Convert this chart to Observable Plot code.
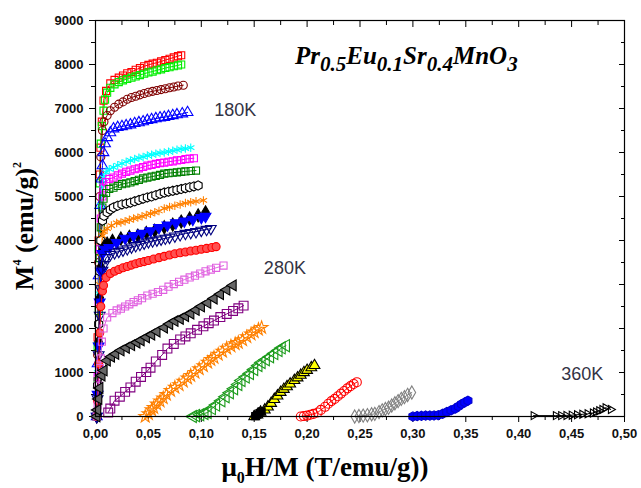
<!DOCTYPE html>
<html>
<head>
<meta charset="utf-8">
<script src="https://cdn.jsdelivr.net/npm/d3@7"></script>
<script src="https://cdn.jsdelivr.net/npm/@observablehq/plot@0.6"></script>
<style>
  html, body { margin: 0; padding: 0; background: #fff; }
  #chart { width: 641px; height: 488px; }
</style>
</head>
<body>
<div id="chart"></div>
<script>
// ---- Data (x = mu0H/M in T/(emu/g), y = M^4) ----
const s01 = [[0.0012,0],[0.002,1800],[0.003,4000],[0.004,5500],[0.0047,6110],[0.006,6700],[0.0076,7180],[0.010,7400],[0.014,7570],[0.018,7650],[0.022,7700],[0.026,7750],[0.030,7800],[0.034,7830],[0.038,7880],[0.042,7920],[0.046,7960],[0.050,7990],[0.054,8020],[0.058,8040],[0.062,8070],[0.066,8100],[0.070,8130],[0.074,8160],[0.078,8190],[0.081,8210]];
const s02 = [[0.0012,0],[0.002,1600],[0.003,3800],[0.004,5300],[0.005,6200],[0.006,6600],[0.0076,6950],[0.009,7200],[0.011,7360],[0.014,7470],[0.018,7550],[0.022,7600],[0.026,7640],[0.030,7670],[0.034,7700],[0.038,7730],[0.042,7760],[0.046,7790],[0.050,7820],[0.054,7840],[0.058,7870],[0.062,7890],[0.066,7920],[0.070,7940],[0.074,7960],[0.078,7980],[0.081,8000]];
const s03 = [[0.0012,0],[0.002,1400],[0.003,3500],[0.004,5000],[0.005,5900],[0.0066,6500],[0.008,6700],[0.011,6840],[0.014,6950],[0.018,7030],[0.022,7100],[0.026,7150],[0.030,7210],[0.034,7250],[0.038,7280],[0.042,7310],[0.046,7340],[0.050,7370],[0.054,7390],[0.058,7410],[0.062,7430],[0.066,7450],[0.070,7470],[0.074,7490],[0.078,7510],[0.083,7530]];
const s04 = [[0.0012,0],[0.002,1200],[0.003,3200],[0.0045,4800],[0.0055,5400],[0.0066,5700],[0.0075,6000],[0.009,6200],[0.011,6340],[0.014,6450],[0.017,6540],[0.021,6570],[0.025,6590],[0.029,6610],[0.033,6630],[0.037,6660],[0.041,6680],[0.045,6700],[0.049,6730],[0.053,6750],[0.057,6770],[0.061,6790],[0.065,6800],[0.069,6820],[0.073,6840],[0.077,6860],[0.082,6880],[0.087,6910]];
const s05 = [[0.0012,0],[0.002,1000],[0.003,2800],[0.004,4000],[0.005,4800],[0.0065,5250],[0.0076,5430],[0.010,5550],[0.013,5620],[0.017,5660],[0.021,5710],[0.025,5750],[0.029,5790],[0.033,5820],[0.037,5850],[0.041,5880],[0.045,5900],[0.049,5930],[0.053,5950],[0.057,5970],[0.061,5990],[0.065,6000],[0.069,6020],[0.073,6040],[0.077,6060],[0.081,6080],[0.085,6090],[0.090,6110]];
const s06 = [[0.0012,0],[0.002,900],[0.003,2600],[0.004,3800],[0.005,4500],[0.0065,5000],[0.0076,5200],[0.010,5330],[0.013,5400],[0.017,5430],[0.021,5480],[0.025,5520],[0.029,5560],[0.033,5590],[0.037,5620],[0.041,5640],[0.045,5670],[0.049,5700],[0.053,5720],[0.057,5740],[0.061,5760],[0.065,5770],[0.069,5790],[0.073,5800],[0.077,5820],[0.081,5830],[0.085,5850],[0.089,5860],[0.093,5870]];
const s07 = [[0.0012,0],[0.002,800],[0.003,2400],[0.004,3600],[0.005,4300],[0.0065,4750],[0.0076,4950],[0.010,5080],[0.013,5170],[0.017,5200],[0.021,5240],[0.025,5280],[0.029,5300],[0.033,5320],[0.037,5350],[0.041,5380],[0.045,5410],[0.049,5430],[0.053,5450],[0.057,5470],[0.061,5490],[0.065,5520],[0.069,5530],[0.073,5540],[0.077,5550],[0.081,5560],[0.085,5570],[0.090,5580],[0.095,5590]];
const s08 = [[0.0012,0],[0.002,700],[0.003,2100],[0.004,3300],[0.005,4000],[0.0066,4450],[0.008,4560],[0.011,4640],[0.014,4700],[0.017,4750],[0.021,4790],[0.025,4820],[0.029,4840],[0.033,4860],[0.037,4890],[0.041,4920],[0.045,4950],[0.049,4980],[0.053,5000],[0.057,5030],[0.061,5060],[0.065,5090],[0.069,5110],[0.073,5130],[0.077,5150],[0.081,5170],[0.085,5190],[0.089,5210],[0.093,5230],[0.097,5250]];
const s09 = [[0.0012,0],[0.002,600],[0.003,1900],[0.004,3000],[0.005,3700],[0.0066,4110],[0.008,4200],[0.011,4270],[0.015,4340],[0.020,4400],[0.024,4410],[0.028,4440],[0.032,4470],[0.036,4500],[0.040,4520],[0.044,4550],[0.048,4580],[0.052,4610],[0.056,4640],[0.060,4670],[0.065,4730],[0.070,4760],[0.075,4790],[0.080,4820],[0.085,4850],[0.090,4870],[0.095,4890],[0.102,4910]];
const s10 = [[0.0012,0],[0.002,500],[0.003,1700],[0.004,2700],[0.005,3400],[0.0066,3770],[0.008,3860],[0.011,3930],[0.016,3990],[0.024,4045],[0.032,4080],[0.040,4110],[0.048,4170],[0.056,4220],[0.065,4300],[0.073,4360],[0.081,4430],[0.089,4500],[0.097,4570],[0.104,4640]];
const s10b = [[0.0012,0],[0.002,500],[0.003,1600],[0.004,2600],[0.005,3300],[0.0066,3700],[0.009,3800],[0.013,3840],[0.020,3950],[0.028,4050],[0.036,4110],[0.044,4160],[0.052,4220],[0.060,4290],[0.068,4350],[0.076,4400],[0.084,4440],[0.092,4480],[0.100,4520],[0.104,4545]];
const s11 = [[0.0012,0],[0.002,400],[0.003,1400],[0.004,2300],[0.005,2900],[0.0066,3320],[0.008,3450],[0.010,3610],[0.014,3680],[0.018,3720],[0.022,3750],[0.026,3780],[0.030,3810],[0.034,3850],[0.038,3880],[0.042,3910],[0.046,3940],[0.050,3970],[0.054,3990],[0.058,4010],[0.062,4030],[0.066,4050],[0.070,4070],[0.075,4100],[0.080,4130],[0.085,4160],[0.090,4180],[0.095,4200],[0.100,4230],[0.105,4250],[0.109,4270]];
const s12 = [[0.0012,0],[0.002,350],[0.003,1200],[0.004,1900],[0.005,2500],[0.0066,2850],[0.0076,2980],[0.010,3160],[0.014,3250],[0.018,3300],[0.022,3340],[0.026,3380],[0.030,3410],[0.034,3440],[0.038,3470],[0.042,3500],[0.046,3520],[0.050,3545],[0.055,3580],[0.060,3610],[0.065,3640],[0.070,3670],[0.075,3700],[0.080,3720],[0.085,3740],[0.090,3760],[0.095,3780],[0.100,3800],[0.105,3820],[0.110,3840],[0.114,3860]];
const s13 = [[0.0012,0],[0.002,250],[0.003,700],[0.004,1100],[0.005,1320],[0.006,1700],[0.0076,2000],[0.011,2250],[0.016,2350],[0.020,2410],[0.024,2450],[0.028,2500],[0.032,2550],[0.036,2600],[0.040,2640],[0.044,2690],[0.049,2750],[0.054,2790],[0.059,2830],[0.064,2880],[0.069,2950],[0.074,3010],[0.079,3060],[0.084,3110],[0.089,3160],[0.094,3200],[0.099,3250],[0.104,3300],[0.109,3340],[0.114,3380],[0.121,3430]];
const s14 = [[0.0012,0],[0.002,150],[0.003,400],[0.004,650],[0.006,930],[0.008,1045],[0.011,1270],[0.015,1360],[0.019,1420],[0.024,1500],[0.029,1560],[0.034,1620],[0.039,1680],[0.043,1730],[0.048,1800],[0.053,1860],[0.058,1930],[0.065,2020],[0.070,2100],[0.075,2170],[0.080,2220],[0.085,2280],[0.090,2340],[0.095,2420],[0.100,2500],[0.106,2580],[0.112,2680],[0.118,2780],[0.124,2880],[0.130,2980]];
const s15 = [[0.012,90],[0.014,180],[0.018,360],[0.023,450],[0.028,560],[0.033,660],[0.038,790],[0.043,900],[0.048,1010],[0.052,1110],[0.057,1250],[0.063,1400],[0.068,1545],[0.074,1650],[0.080,1750],[0.085,1820],[0.090,1890],[0.096,1970],[0.102,2050],[0.107,2120],[0.112,2180],[0.118,2260],[0.124,2330],[0.130,2400],[0.135,2460],[0.140,2520]];
const s16 = [[0.047,0],[0.050,60],[0.053,150],[0.055,200],[0.058,280],[0.061,350],[0.064,420],[0.067,500],[0.071,590],[0.075,660],[0.079,720],[0.083,800],[0.087,870],[0.090,930],[0.094,1000],[0.098,1080],[0.102,1150],[0.106,1230],[0.109,1290],[0.112,1340],[0.116,1410],[0.120,1480],[0.124,1550],[0.128,1600],[0.132,1650],[0.135,1680],[0.139,1740],[0.143,1810],[0.147,1870],[0.150,1920],[0.154,1980],[0.157,2020]];
const s17 = [[0.092,0],[0.095,20],[0.099,40],[0.103,70],[0.106,90],[0.110,180],[0.114,260],[0.119,360],[0.123,450],[0.127,540],[0.131,630],[0.135,730],[0.138,820],[0.142,900],[0.146,980],[0.150,1070],[0.154,1160],[0.157,1230],[0.161,1290],[0.165,1360],[0.169,1430],[0.173,1500],[0.176,1560],[0.180,1610]];
const s18 = [[0.150,0],[0.153,40],[0.156,100],[0.160,150],[0.163,220],[0.166,300],[0.169,390],[0.172,470],[0.175,550],[0.178,620],[0.181,680],[0.184,740],[0.188,820],[0.191,880],[0.194,940],[0.197,1000],[0.200,1050],[0.204,1110],[0.207,1160]];
const s18b = [[0.151,10],[0.153,40],[0.155,80],[0.157,120]];
const s19 = [[0.194,0],[0.197,10],[0.200,20],[0.203,40],[0.206,60],[0.210,90],[0.213,150],[0.217,220],[0.220,290],[0.223,350],[0.226,400],[0.229,460],[0.232,520],[0.235,580],[0.238,640],[0.241,690],[0.244,740],[0.247,780]];
const s20 = [[0.245,0],[0.249,10],[0.253,20],[0.257,30],[0.261,50],[0.264,60],[0.268,100],[0.271,140],[0.274,170],[0.277,200],[0.280,250],[0.283,300],[0.286,350],[0.289,400],[0.292,440],[0.295,490],[0.299,545]];
const s21 = [[0.300,0],[0.304,10],[0.308,15],[0.312,20],[0.316,20],[0.320,25],[0.324,30],[0.328,60],[0.332,100],[0.336,140],[0.340,180],[0.343,230],[0.346,280],[0.349,320],[0.352,360]];
const s22 = [[0.414,20],[0.435,20],[0.440,20],[0.445,25],[0.450,30],[0.455,40],[0.460,50],[0.465,60],[0.470,80],[0.473,100],[0.476,130],[0.479,160],[0.482,200],[0.487,160]];

const xMajor = [0, 0.05, 0.10, 0.15, 0.20, 0.25, 0.30, 0.35, 0.40, 0.45, 0.50];
const xMinor = [0.025, 0.075, 0.125, 0.175, 0.225, 0.275, 0.325, 0.375, 0.425, 0.475];
const yMajor = [0, 1000, 2000, 3000, 4000, 5000, 6000, 7000, 8000, 9000];
const yMinor = [500, 1500, 2500, 3500, 4500, 5500, 6500, 7500, 8500];
const tempLabels = ["180K", "280K", "360K"];
const tempLabelX = [0.132, 0.179, 0.46];
const tempLabelY = [6950, 3370, 960];

// ---- Series styling ----
const series = [
  {data: s01, color: "#ff0000", symbol: "square", fill: "none"},
  {data: s02, color: "#00ee00", symbol: "square", fill: "none"},
  {data: s03, color: "#800000", symbol: "circle", fill: "none"},
  {data: s04, color: "#0000ff", symbol: "triangle", fill: "none"},
  {data: s05, color: "#00ffff", symbol: "asterisk", fill: "none"},
  {data: s06, color: "#ff00ff", symbol: "square", fill: "none"},
  {data: s07, color: "#008000", symbol: "square", fill: "none"},
  {data: s08, color: "#000000", symbol: "hexagon", fill: "#ffffff"},
  {data: s09, color: "#ff8000", symbol: "asterisk", fill: "none"},
  {data: s10, color: "#000000", symbol: "diamond", fill: "#000000"},
  {data: s10b, color: "#0000ff", symbol: "triangle", fill: "#0000ff", rotate: 180},
  {data: s11, color: "#000080", symbol: "triangle", fill: "none", rotate: 180},
  {data: s12, color: "#ff0000", symbol: "circle", fill: "#ff5050"},
  {data: s13, color: "#e060e0", symbol: "square", fill: "none"},
  {data: s14, color: "#000000", symbol: "triangle", fill: "#666666", rotate: -90},
  {data: s15, color: "#800080", symbol: "square", fill: "none", r: 5},
  {data: s16, color: "#ff8000", symbol: "star", fill: "none"},
  {data: s17, color: "#1a9a1a", symbol: "triangle", fill: "none", rotate: -90, r: 4.5},
  {data: s18, color: "#000000", symbol: "triangle", fill: "#ffff00"},
  {data: s18b, color: "#000000", symbol: "square", fill: "#000000"},
  {data: s19, color: "#ff0000", symbol: "circle", fill: "none", r: 4.5},
  {data: s20, color: "#808080", symbol: "diamond", fill: "none"},
  {data: s21, color: "#0000cc", symbol: "hexagon", fill: "#0000ff"},
  {data: s22, color: "#000000", symbol: "triangle", fill: "none", rotate: 90, r: 3}
];

const fmtX = d => d.toFixed(2).replace(".", ",");
const blank = () => "";

const marks = [];
for (const s of series) {
  marks.push(Plot.line(s.data, {x: d => d[0], y: d => d[1], stroke: s.color, strokeWidth: 1}));
  marks.push(Plot.dot(s.data, {
    x: d => d[0], y: d => d[1], symbol: s.symbol, r: s.r ?? 4,
    stroke: s.color, fill: s.fill, strokeWidth: 1.1, rotate: s.rotate ?? 0
  }));
}

const tickStyle = {fontSize: 13, fontWeight: "bold", fontFamily: "Liberation Sans, Arial, sans-serif", fill: "#111"};

const chart = Plot.plot({
  width: 641,
  height: 488,
  marginLeft: 95,
  marginRight: 17,
  marginTop: 20,
  marginBottom: 72,
  style: {background: "#ffffff", fontFamily: "Liberation Sans, Arial, sans-serif", overflow: "visible"},
  x: {domain: [0, 0.5], label: null},
  y: {domain: [0, 9000], label: null},
  marks: [
    Plot.axisX({ticks: xMajor, tickSize: 6, tickPadding: 6, tickFormat: fmtX, label: null, ...tickStyle}),
    Plot.axisX({ticks: xMinor, tickSize: 4, tickFormat: blank, label: null}),
    Plot.axisX({anchor: "top", ticks: xMajor, tickSize: -6, tickFormat: blank, label: null}),
    Plot.axisX({anchor: "top", ticks: xMinor, tickSize: -4, tickFormat: blank, label: null}),
    Plot.axisY({ticks: yMajor, tickSize: 6, tickPadding: 6, tickFormat: d => String(d), label: null, ...tickStyle}),
    Plot.axisY({ticks: yMinor, tickSize: 4, tickFormat: blank, label: null}),
    Plot.axisY({anchor: "right", ticks: yMajor, tickSize: -6, tickFormat: blank, label: null}),
    Plot.axisY({anchor: "right", ticks: yMinor, tickSize: -4, tickFormat: blank, label: null}),
    ...marks,
    Plot.text(tempLabels, {x: (d, i) => tempLabelX[i], y: (d, i) => tempLabelY[i], text: d => d,
      fontSize: 18, fill: "#333344", fontFamily: "Liberation Sans, Arial, sans-serif"}),
    Plot.frame({stroke: "#000", strokeWidth: 1.2})
  ]
});

document.getElementById("chart").appendChild(chart);

// ---- Titles with sub/superscripts ----
const svg = d3.select(chart);
const serif = "Liberation Serif, Times New Roman, serif";

// compound formula
const t = svg.append("text").attr("x", 295).attr("y", 64).attr("text-anchor", "start")
  .attr("font-family", serif).attr("font-weight", "bold").attr("font-style", "italic")
  .attr("font-size", 25).attr("fill", "#000");
const parts = [["Pr", false], ["0.5", true], ["Eu", false], ["0.1", true], ["Sr", false], ["0.4", true], ["MnO", false], ["3", true]];
let sub = false;
for (const [txt, isSub] of parts) {
  const ts = t.append("tspan").text(txt);
  if (isSub && !sub) { ts.attr("dy", 7).attr("font-size", 21); sub = true; }
  else if (isSub) { ts.attr("font-size", 21); }
  else if (!isSub && sub) { ts.attr("dy", -7); sub = false; }
}

// x label
const xl = svg.append("text").attr("x", 325).attr("y", 476).attr("text-anchor", "middle")
  .attr("font-family", serif).attr("font-weight", "bold").attr("font-size", 27).attr("fill", "#000");
xl.append("tspan").text("μ");
xl.append("tspan").text("0").attr("font-size", 16).attr("dy", 7);
xl.append("tspan").text("H/M (T/emu/g))").attr("dy", -7);

// y label
const yl = svg.append("text").attr("transform", "translate(33,226) rotate(-90)").attr("text-anchor", "middle")
  .attr("font-family", serif).attr("font-weight", "bold").attr("font-size", 26).attr("fill", "#000");
yl.append("tspan").text("M");
yl.append("tspan").text("4").attr("font-size", 12).attr("dy", -12);
yl.append("tspan").text(" (emu/g)").attr("dy", 12);
yl.append("tspan").text("2").attr("font-size", 12).attr("dy", -12);
</script>
</body>
</html>
